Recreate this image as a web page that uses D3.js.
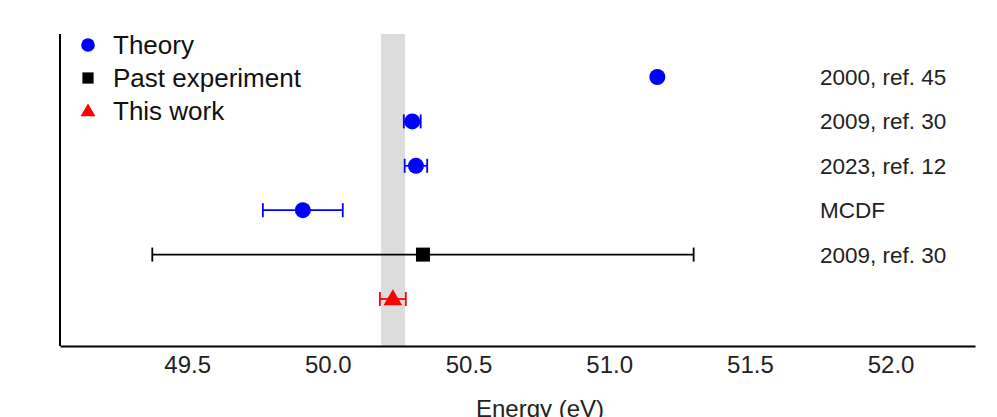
<!DOCTYPE html><html><head><meta charset="utf-8">
<script src="https://cdn.jsdelivr.net/npm/d3@7"></script>
<style>body{margin:0;background:#fff}text{font-family:"Liberation Sans",Arial,sans-serif}</style></head><body>
<svg id="c" width="997" height="417"></svg>
<script>
const labels=["2000, ref. 45","2009, ref. 30","2023, ref. 12","MCDF","2009, ref. 30",""];
const kinds=["theory","theory","theory","theory","past","this"];
const values=[51.171,50.300,50.313,49.911,50.338,50.231];
const errors=[0,0.03,0.04,0.142,0.962,0.046];
const band=[50.189,50.274];
const ticks=[49.5,50.0,50.5,51.0,51.5,52.0];
const legend=[["theory","Theory"],["past","Past experiment"],["this","This work"]];
const col={theory:"#0000ff",past:"#000",this:"#ff0000"};
const svg=d3.select("#c");
const x=d3.scaleLinear().domain([49.048,52.30]).range([60,975]);
const y=d3.scalePoint().domain(d3.range(6)).range([77,299]);
svg.append("rect").attr("x",x(band[0])).attr("y",34).attr("width",x(band[1])-x(band[0])).attr("height",312).attr("fill","#dcdcdc");
svg.append("line").attr("x1",60).attr("x2",60).attr("y1",34).attr("y2",346).attr("stroke","#000").attr("stroke-width",2);
const ax=svg.append("g").attr("transform","translate(0,346)").call(d3.axisBottom(x).tickValues(ticks).tickFormat(d3.format(".1f")).tickSize(0).tickPadding(10));
ax.select(".domain").attr("stroke-width",2);
ax.selectAll("text").attr("font-size",24).attr("fill","#222");
svg.append("text").attr("x",540).attr("y",417).attr("text-anchor","middle").attr("font-size",24).attr("fill","#222").text("Energy (eV)");
values.forEach((v,i)=>{
  const c=col[kinds[i]],yy=y(i);
  if(errors[i]>0){
    const g=svg.append("g").attr("stroke",c).attr("stroke-width",1.8);
    g.append("line").attr("x1",x(v-errors[i])).attr("x2",x(v+errors[i])).attr("y1",yy).attr("y2",yy);
    [v-errors[i],v+errors[i]].forEach(e=>g.append("line").attr("x1",x(e)).attr("x2",x(e)).attr("y1",yy-7).attr("y2",yy+7));
  }
  drawMark(kinds[i],x(v),yy);
  if(labels[i])svg.append("text").attr("x",820).attr("y",yy+8).attr("font-size",22.5).attr("fill","#222").text(labels[i]);
});
function drawMark(k,cx,cy,s=1){
  if(k==="theory")svg.append("circle").attr("cx",cx).attr("cy",cy).attr("r",8*s).attr("fill",col[k]);
  else if(k==="past")svg.append("rect").attr("x",cx-7*s).attr("y",cy-7*s).attr("width",14*s).attr("height",14*s).attr("fill",col[k]);
  else svg.append("path").attr("d",d3.symbol(d3.symbolTriangle,150*s*s)()).attr("transform",`translate(${cx},${cy+1})`).attr("fill",col[k]);
}
legend.forEach(([k,t],i)=>{
  const yy=45+i*33;
  drawMark(k,88,yy,k==="theory"?0.85:0.8);
  svg.append("text").attr("x",113).attr("y",yy+9).attr("font-size",26).attr("fill","#111").text(t);
});
</script></body></html>
